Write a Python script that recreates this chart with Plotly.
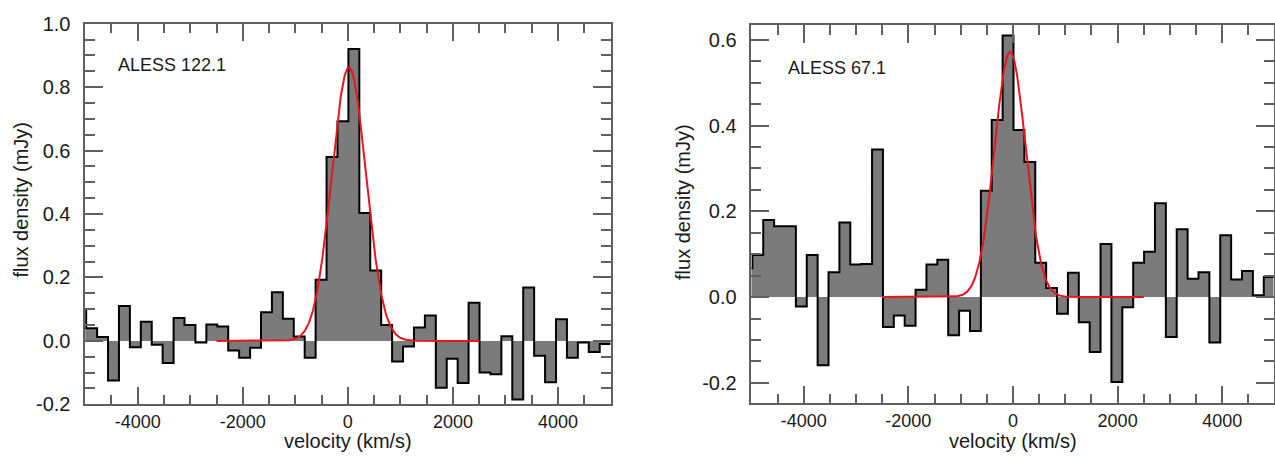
import numpy as np
import plotly.graph_objects as go

# Spectral channels (km/s): left edge of each channel, constant width
CHAN_WIDTH = 208
chan_lo = np.arange(-5190, 4795, CHAN_WIDTH)

# Flux density per channel (mJy)
flux_122 = [0.10, 0.04, 0.012, -0.125, 0.11, -0.02, 0.06, -0.012, -0.07, 0.072,
            0.05, -0.005, 0.052, 0.045, -0.03, -0.053, -0.022, 0.09, 0.153, 0.07,
            0.014, -0.053, 0.193, 0.58, 0.692, 0.92, 0.403, 0.222, 0.05, -0.065,
            -0.018, 0.042, 0.08, -0.148, -0.056, -0.133, 0.12, -0.10, -0.105, 0.015,
            -0.185, 0.168, -0.047, -0.13, 0.068, -0.053, -0.005, -0.035, -0.01]
flux_67 = [0.067, 0.098, 0.18, 0.165, 0.165, -0.022, 0.098, -0.159, 0.058, 0.174,
           0.076, 0.077, 0.344, -0.07, -0.043, -0.067, 0.017, 0.076, 0.087, -0.089,
           -0.032, -0.079, 0.248, 0.413, 0.61, 0.39, 0.315, 0.08, 0.021, -0.039,
           0.057, -0.059, -0.128, 0.124, -0.198, -0.024, 0.08, 0.106, 0.219, -0.093,
           0.158, 0.043, 0.058, -0.106, 0.144, 0.041, 0.061, 0.004, 0.047]

# Gaussian line fits: amplitude (mJy), centre (km/s), FWHM (km/s)
fit_122 = dict(amp=0.862, v0=20, fwhm=770)
fit_67 = dict(amp=0.572, v0=-55, fwhm=700)
FIT_SPAN = (-2500, 2500)

sources = ["ALESS 122.1", "ALESS 67.1"]

FONT = "Liberation Sans, Arial, Helvetica, sans-serif"
FILL = "#7b7b7b"
AXCOL = "#606060"
RED = "#e8161c"
TXT = "#1a1a1a"

fig = go.Figure()


def add_spectrum(flux, fit, xa, ya):
    edges = np.append(chan_lo, chan_lo[-1] + CHAN_WIDTH)
    step_y = list(flux) + [flux[-1]]
    fig.add_trace(go.Scatter(
        x=edges, y=step_y, mode="lines",
        line=dict(shape="hv", color="black", width=2),
        fill="tozeroy", fillcolor=FILL,
        xaxis=xa, yaxis=ya, showlegend=False, hoverinfo="skip"))
    v = np.linspace(FIT_SPAN[0], FIT_SPAN[1], 600)
    sigma = fit["fwhm"] / (2 * np.sqrt(2 * np.log(2)))
    model = fit["amp"] * np.exp(-0.5 * ((v - fit["v0"]) / sigma) ** 2)
    fig.add_trace(go.Scatter(
        x=v, y=model, mode="lines", line=dict(color=RED, width=2),
        xaxis=xa, yaxis=ya, showlegend=False, hoverinfo="skip"))


add_spectrum(flux_122, fit_122, "x", "y")
add_spectrum(flux_67, fit_67, "x2", "y2")

xticks = [-4000, -2000, 0, 2000, 4000]
xminor = [v for v in range(-5000, 5001, 500) if v not in xticks]


def fmt(v):
    return f"{v:.1f}" if isinstance(v, float) else str(v)


def xaxis(domain, rng):
    return dict(
        domain=domain, range=rng, showgrid=False, zeroline=False,
        showline=True, linecolor=AXCOL, linewidth=1.5, mirror="allticks",
        ticks="inside", ticklen=18, tickwidth=1.5, tickcolor=AXCOL,
        tickmode="array", tickvals=xticks, ticktext=[str(v) for v in xticks],
        tickfont=dict(family=FONT, size=18, color=TXT),
        ticklabelstandoff=0,
        minor=dict(tickmode="array", tickvals=xminor, ticks="inside",
                   ticklen=10, tickwidth=1.5, tickcolor=AXCOL),
    )


def yaxis(domain, rng, majors, anchor):
    minors = [round(v, 2) for v in np.arange(-0.25, 1.001, 0.05)
              if all(abs(v - m) > 1e-6 for m in majors)]
    return dict(
        domain=domain, range=rng, anchor=anchor, showgrid=False, zeroline=False,
        showline=True, linecolor=AXCOL, linewidth=1.5, mirror="allticks",
        ticks="inside", ticklen=18, tickwidth=1.5, tickcolor=AXCOL,
        tickmode="array", tickvals=majors, ticktext=[fmt(m) for m in majors],
        tickfont=dict(family=FONT, size=20, color=TXT),
        ticklabelstandoff=9,
        minor=dict(tickmode="array", tickvals=minors, ticks="inside",
                   ticklen=10, tickwidth=1.5, tickcolor=AXCOL),
    )


W, H = 1275, 462
fig.update_layout(
    width=W, height=H, margin=dict(l=0, r=0, t=0, b=0),
    paper_bgcolor="white", plot_bgcolor="white",
    xaxis=dict(xaxis([85.3 / W, 611 / W], [-5000, 5000]), anchor="y"),
    yaxis=yaxis([(H - 413) / H, (H - 13.3) / H], [-0.2, 1.0],
                [-0.2, 0.0, 0.2, 0.4, 0.6, 0.8, 1.0], "x"),
    xaxis2=dict(xaxis([752 / W, 1274.5 / W], [-5000, 4980]), anchor="y2"),
    yaxis2=yaxis([(H - 412) / H, (H - 15) / H], [-0.248, 0.634],
                 [-0.2, 0.0, 0.2, 0.4, 0.6], "x2"),
)

title_font = dict(family=FONT, size=20, color=TXT)
label_font = dict(family=FONT, size=18, color=TXT)
ann = [
    dict(text=sources[0], x=116 / W, y=(H - 57) / H, xanchor="left", yanchor="middle",
         font=label_font),
    dict(text=sources[1], x=787 / W, y=(H - 60) / H, xanchor="left", yanchor="middle",
         font=label_font),
    dict(text="velocity (km/s)", x=348 / W, y=0, xanchor="center",
         yanchor="bottom", yshift=-2, font=title_font, borderpad=0),
    dict(text="velocity (km/s)", x=1014 / W, y=0, xanchor="center",
         yanchor="bottom", yshift=-2, font=title_font, borderpad=0),
    dict(text="flux density (mJy)", x=21 / W, y=(H - 198) / H, textangle=-90,
         xanchor="center", yanchor="middle", font=title_font),
    dict(text="flux density (mJy)", x=684 / W, y=(H - 200) / H, textangle=-90,
         xanchor="center", yanchor="middle", font=title_font),
]
for a in ann:
    a.update(xref="paper", yref="paper", showarrow=False)
fig.update_layout(annotations=ann)

fig.write_html("out.html")
